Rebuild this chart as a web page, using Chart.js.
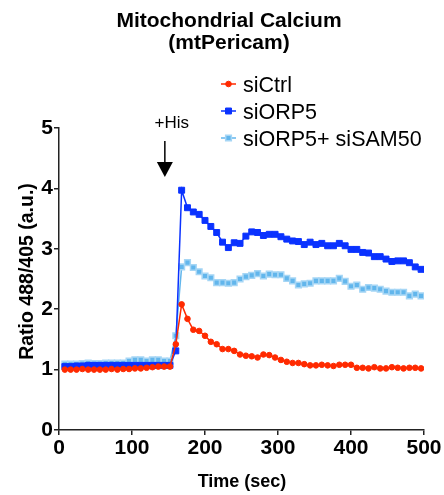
<!DOCTYPE html>
<html><head><meta charset="utf-8">
<script src="https://cdn.jsdelivr.net/npm/chart.js@4.4.1/dist/chart.umd.min.js"></script>
<style>html,body{margin:0;padding:0;background:#fff}#wrap{width:444px;height:495px}</style>
</head><body><div id="wrap"><canvas id="c" width="444" height="495"></canvas></div>
<script>
const timeSec = [8,16,24,32,40,48,56,64,72,80,88,96,104,112,120,128,136,144,152,
  160,168,176,184,192,200,208,216,224,232,240,248,256,
  264,272,280,288,296,304,312,320,328,336,344,352,360,368,376,384,392,400,
  408,416,424,432,440,448,456,464,472,480,488,496];
const siCtrl = [1.00,1.00,1.00,1.01,1.00,1.00,1.00,1.00,1.01,1.00,1.01,1.01,1.02,1.02,1.03,1.04,1.05,1.05,1.05,
  1.42,2.08,1.84,1.66,1.64,1.56,1.46,1.42,1.34,1.34,1.31,1.25,1.23,
  1.22,1.20,1.25,1.24,1.20,1.16,1.13,1.11,1.11,1.09,1.07,1.07,1.08,1.07,1.06,1.08,1.08,1.08,
  1.03,1.03,1.02,1.04,1.02,1.02,1.04,1.03,1.02,1.03,1.03,1.02];
const siORP5 = [1.05,1.05,1.06,1.06,1.07,1.07,1.07,1.07,1.07,1.07,1.07,1.07,1.07,1.07,1.07,1.07,1.07,1.07,1.07,
  1.31,3.97,3.68,3.61,3.57,3.47,3.37,3.27,3.11,3.02,3.10,3.09,3.21,
  3.28,3.27,3.22,3.24,3.24,3.20,3.16,3.13,3.12,3.07,3.11,3.07,3.09,3.05,3.05,3.09,3.05,2.99,
  2.99,2.94,2.93,2.87,2.87,2.83,2.79,2.80,2.80,2.77,2.70,2.66];
const siORP5_siSAM50 = [1.09,1.09,1.09,1.10,1.11,1.10,1.10,1.11,1.11,1.11,1.11,1.14,1.16,1.16,1.14,1.16,1.16,1.14,1.14,
  1.56,2.70,2.77,2.69,2.62,2.55,2.52,2.44,2.44,2.43,2.44,2.50,2.54,
  2.56,2.59,2.55,2.58,2.57,2.57,2.51,2.47,2.40,2.42,2.43,2.47,2.47,2.47,2.47,2.51,2.46,2.38,
  2.40,2.33,2.36,2.35,2.33,2.30,2.28,2.28,2.28,2.22,2.25,2.22];
const xTicks = [0,100,200,300,400,500];
const yTicks = [0,1,2,3,4,5];
const seriesLabels = ['siCtrl','siORP5','siORP5+ siSAM50'];
const chartTitle = ['Mitochondrial Calcium','(mtPericam)'];
const xTitle = 'Time (sec)';
const yTitle = 'Ratio 488/405 (a.u.)';
const stimulusLabel = '+His';
const stimulusTime = 145;

const FONT = '"Liberation Sans", Arial, Helvetica, sans-serif';
const pts = arr => timeSec.map((t,i)=>({x:t,y:arr[i]}));

const decor = {
  id:'decor',
  afterDraw(chart){
    const ctx = chart.ctx;
    ctx.save();
    ctx.fillStyle = '#000';
    ctx.font = 'bold 21px ' + FONT;
    ctx.textAlign = 'center';
    ctx.textBaseline = 'alphabetic';
    ctx.fillText(chartTitle[0], 229, 27);
    ctx.fillText(chartTitle[1], 229, 49);
    const rows = [92,119,146];
    chart.data.datasets.forEach((ds,i)=>{
      const yb = rows[i], ym = yb - 8;
      ctx.strokeStyle = ds.borderColor;
      ctx.lineWidth = 1.5;
      ctx.beginPath(); ctx.moveTo(221, ym); ctx.lineTo(236, ym); ctx.stroke();
      ctx.fillStyle = ds.pointBackgroundColor;
      ctx.strokeStyle = ds.pointBorderColor;
      ctx.lineWidth = ds.pointBorderWidth;
      const cx = 228.5;
      if (ds.pointStyle === 'circle') {
        ctx.beginPath(); ctx.arc(cx, ym, ds.pointRadius, 0, Math.PI*2); ctx.fill(); ctx.stroke();
      } else {
        const s = ds.pointRadius * Math.SQRT1_2;
        ctx.beginPath(); ctx.rect(cx - s, ym - s, 2*s, 2*s); ctx.fill(); ctx.stroke();
      }
      ctx.fillStyle = '#000';
      ctx.font = '21.5px ' + FONT;
      ctx.textAlign = 'left';
      ctx.fillText(ds.label, 243, yb);
    });
    const xs = chart.scales.x.getPixelForValue(stimulusTime);
    ctx.font = '17px ' + FONT;
    ctx.textAlign = 'center';
    ctx.fillText(stimulusLabel, xs + 7, 128);
    ctx.strokeStyle = '#000'; ctx.lineWidth = 1.5;
    ctx.beginPath(); ctx.moveTo(xs, 141); ctx.lineTo(xs, 163); ctx.stroke();
    ctx.beginPath(); ctx.moveTo(xs-8, 162); ctx.lineTo(xs+8, 162); ctx.lineTo(xs, 177); ctx.closePath(); ctx.fill();
    ctx.font = 'bold 18px ' + FONT;
    ctx.fillText(xTitle, 242, 487);
    ctx.save();
    ctx.translate(33, 271.5);
    ctx.rotate(-Math.PI/2);
    ctx.font = 'bold 19.5px ' + FONT;
    ctx.fillText(yTitle, 0, 0);
    ctx.restore();
    ctx.restore();
  }
};

const axisCommon = {
  grid:{display:true, drawOnChartArea:false, drawTicks:true, tickLength:5, color:'#222', lineWidth:1.5},
  border:{display:true, color:'#222', width:1.5},
  ticks:{font:{family:FONT, size:21, weight:'bold'}, color:'#000', padding:1, autoSkip:false, maxRotation:0}
};

new Chart(document.getElementById('c'), {
  type:'line',
  data:{datasets:[
    {label:seriesLabels[0], data:pts(siCtrl), borderColor:'#ff2a00', backgroundColor:'#ff2a00',
     pointBackgroundColor:'#ff2a00', pointBorderColor:'#ff2a00', pointStyle:'circle', pointRadius:2.8, pointBorderWidth:1, borderWidth:1.5},
    {label:seriesLabels[1], data:pts(siORP5), borderColor:'#0a32ff', backgroundColor:'#0a32ff',
     pointBackgroundColor:'#0a32ff', pointBorderColor:'#0a32ff', pointStyle:'rect', pointRadius:4.2, pointBorderWidth:1, borderWidth:1.5},
    {label:seriesLabels[2], data:pts(siORP5_siSAM50), borderColor:'#62b6ec', backgroundColor:'#62b6ec',
     pointBackgroundColor:'#62b6ec', pointBorderColor:'#a6d6f5', pointStyle:'rect', pointRadius:4, pointBorderWidth:1.5, borderWidth:1.5}
  ]},
  options:{
    responsive:false, animation:false, devicePixelRatio:1,
    layout:{padding:{top:128,right:20,left:0,bottom:0}},
    plugins:{legend:{display:false}, title:{display:false}, tooltip:{enabled:false}},
    scales:{
      x:Object.assign({}, axisCommon, {type:'linear', min:0, max:500,
        afterBuildTicks:s=>{s.ticks = xTicks.map(v=>({value:v}));},
        afterFit:s=>{s.height = 65;}}),
      y:Object.assign({}, axisCommon, {type:'linear', min:0, max:5,
        afterBuildTicks:s=>{s.ticks = yTicks.map(v=>({value:v}));},
        afterFit:s=>{s.width = 59;}})
    }
  },
  plugins:[decor]
});
</script></body></html>
